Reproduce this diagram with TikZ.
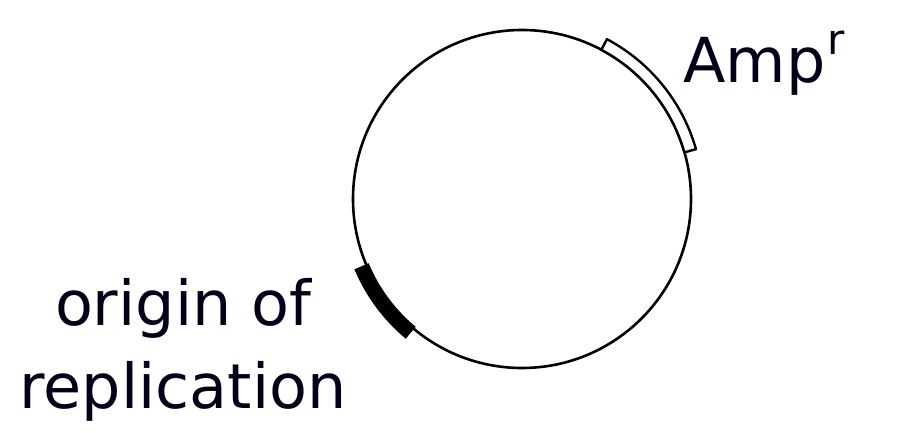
\documentclass[tikz,border=0pt]{standalone}
\usepackage{fontspec}
\setmainfont{DejaVu Sans}
\begin{document}
\begin{tikzpicture}[x=1pt,y=1pt,
  ring/.style={draw=black,line width=2.6pt},
  ampbox/.style={draw=black,line width=2.4pt,fill=white,line join=round},
  oribox/.style={draw=black,line width=1.5pt,fill=black},
  lbl/.style={inner sep=0pt,text=black!90!blue,font=\fontsize{62}{74}\selectfont}]
\useasboundingbox (0,0) rectangle (900,432);
\coordinate (c) at (522,233);
\node[ring,circle,minimum size=338pt,inner sep=0pt] (plasmid) at (c) {};
% Amp^r marker
\draw[ampbox] ([shift={(c)}]16:169) arc[start angle=16,end angle=62,radius=169]
  -- ([shift={(c)}]62:181) arc[start angle=62,end angle=16,radius=181] -- cycle;
% origin of replication marker
\draw[oribox] ([shift={(c)}]203:167) arc[start angle=203,end angle=230,radius=167]
  -- ([shift={(c)}]230:181) arc[start angle=230,end angle=203,radius=181] -- cycle;
\node[lbl,anchor=base west] (amp) at (683,349) {Amp\hspace{2pt}\raisebox{28pt}{\fontsize{42}{42}\selectfont r}};
\node[lbl,anchor=base] (ori1) at (183,107) {origin of};
\node[lbl,anchor=base] (ori2) at (183,24) {replication};
\end{tikzpicture}
\end{document}
